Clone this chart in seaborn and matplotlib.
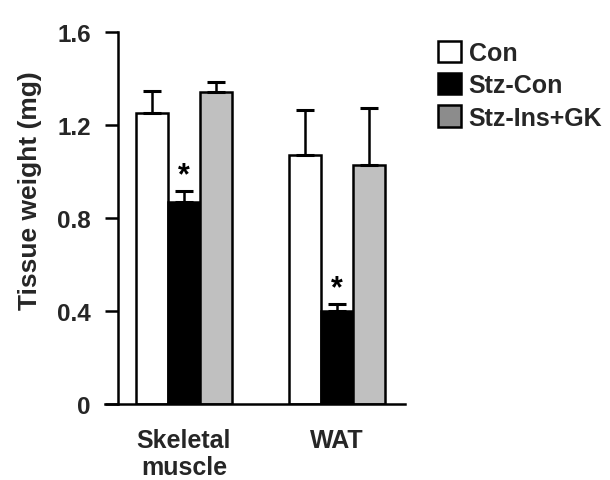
import matplotlib
matplotlib.use("Agg")
import matplotlib.pyplot as plt
from matplotlib.patches import Patch
import seaborn as sns
import pandas as pd

# Tissue weights (mg), mean and upper error per group
tissues = ["Skeletal\nmuscle", "WAT"]
groups = ["Con", "Stz-Con", "Stz-Ins+GK"]
means = {
    "Con": [1.25, 1.07],
    "Stz-Con": [0.87, 0.40],
    "Stz-Ins+GK": [1.34, 1.03],
}
errors = {
    "Con": [0.095, 0.195],
    "Stz-Con": [0.045, 0.030],
    "Stz-Ins+GK": [0.045, 0.245],
}
significant = {"Stz-Con": [True, True]}
yticks = [0, 0.4, 0.8, 1.2, 1.6]
ytick_labels = ["0", "0.4", "0.8", "1.2", "1.6"]

bar_colors = ["#ffffff", "#000000", "#c0c0c0"]
legend_colors = ["#ffffff", "#000000", "#8c8c8c"]

rows = []
for g in groups:
    for t, m in zip(tissues, means[g]):
        rows.append({"tissue": t, "group": g, "weight": m})
df = pd.DataFrame(rows)

sns.set_theme(style="white")
plt.rcParams["font.family"] = ["Liberation Sans", "DejaVu Sans"]
plt.rcParams["font.weight"] = "bold"

fig = plt.figure(figsize=(6.10, 4.81), dpi=100)
ax = fig.add_axes([105 / 610, 1 - 405 / 481, 300 / 610, 372 / 481])

sns.barplot(
    data=df, x="tissue", y="weight", hue="group", order=tissues,
    hue_order=groups, palette=bar_colors, errorbar=None, width=0.625,
    edgecolor="black", linewidth=1.8, legend=False, ax=ax,
)

# upper-only error bars and significance stars
for g, container in zip(groups, ax.containers):
    for i, bar in enumerate(container):
        xc = bar.get_x() + bar.get_width() / 2
        h = bar.get_height()
        e = errors[g][i]
        ax.errorbar(xc, h, yerr=[[0], [e]], fmt="none", ecolor="black",
                    elinewidth=1.8, capsize=6.5, capthick=2.2, zorder=1)
        if significant.get(g, [False, False])[i]:
            ax.text(xc, h + e + 0.035, "*", ha="center", va="baseline",
                    fontsize=22, fontweight="bold", color="black")

ax.set_xlim(-0.515, 1.444)
ax.set_ylim(0, 1.6)
ax.set_yticks(yticks)
ax.set_yticklabels(ytick_labels)

for side in ["top", "right"]:
    ax.spines[side].set_visible(False)
ax.spines["left"].set_position(("axes", 13 / 300))
for side in ["left", "bottom"]:
    ax.spines[side].set_linewidth(1.8)
    ax.spines[side].set_color("black")

ax.tick_params(axis="y", direction="out", length=9.5, width=1.8,
               color="black", pad=10, labelsize=17.5, left=True)
ax.tick_params(axis="x", length=0, pad=17, labelsize=18)
for lab in ax.get_xticklabels() + ax.get_yticklabels():
    lab.set_fontweight("bold")

ax.set_xlabel("")
ax.set_ylabel("Tissue weight (mg)", fontsize=19, fontweight="bold")
ax.yaxis.set_label_coords(-0.21, 0.575)

handles = [Patch(facecolor=c, edgecolor="black", linewidth=1.8)
           for c in legend_colors]
leg = fig.legend(handles, groups, loc="upper left",
                 bbox_to_anchor=(430 / 610, 1 - 34 / 481), frameon=False,
                 handlelength=0.95, handleheight=0.95, handletextpad=0.3,
                 labelspacing=0.32, borderaxespad=0, borderpad=0.3,
                 prop={"size": 18, "weight": "bold"})

fig.savefig("out.png", dpi=100, facecolor="white")
